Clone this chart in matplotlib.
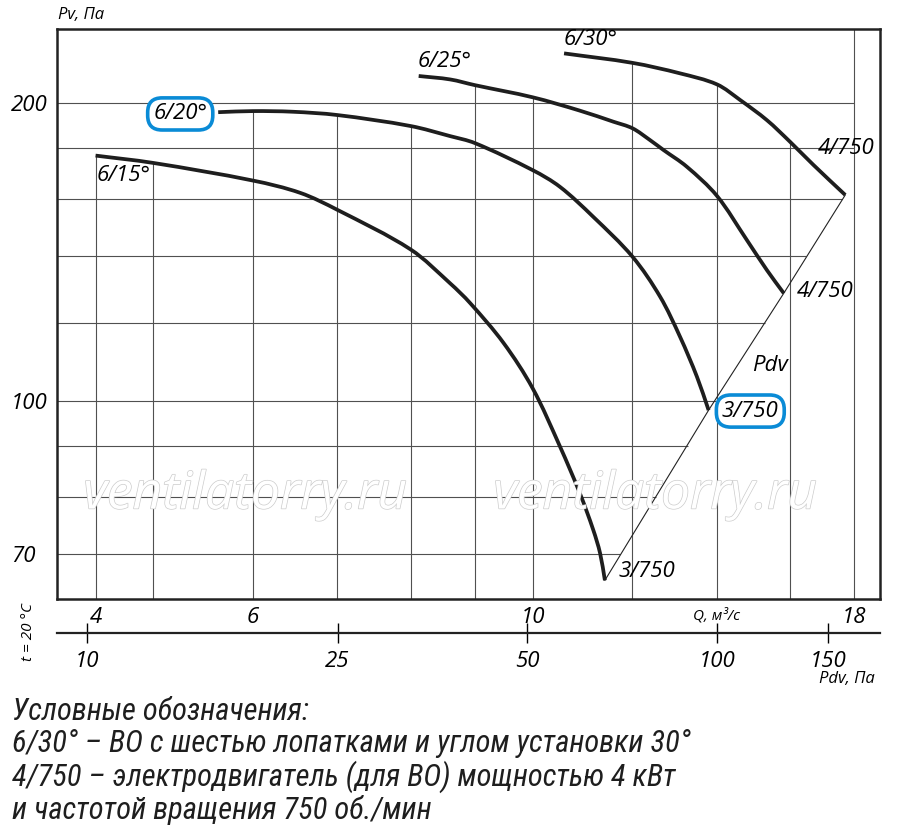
import numpy as np
import matplotlib.pyplot as plt
import matplotlib.patheffects as pe
from matplotlib import font_manager as fm
from matplotlib.path import Path
from matplotlib.patches import PathPatch
from matplotlib.ticker import NullLocator

# fan curves: Q (m3/s) against Pv (Pa)
q_15 = [4.5, 5.0, 6.0, 6.54, 7.0, 8.0, 8.6, 8.92, 9.48, 10.0, 10.51, 10.9, 11.17, 11.31, 11.41]
p_15 = [177, 174, 167, 162.3, 156, 142.3, 131.5, 125.6, 114.5, 103, 90, 80.7, 74.1, 70.2, 65.9]

q_20 = [5.63, 6.0, 6.45, 7.0, 8.0, 8.6, 9.0, 10.0, 10.51, 11.17, 12.0, 12.62, 13.09, 13.5, 13.79]
p_20 = [195.8, 196.3, 196.0, 194.5, 189.6, 185.2, 182.2, 171.1, 164.6, 153.5, 139.9, 127.5, 116.1, 105.8, 97.9]

q_25 = [8.12, 8.6, 9.0, 10.0, 10.9, 11.59, 12.0, 12.39, 12.7, 13.25, 14.0, 14.79, 15.34, 15.82]
p_25 = [213.0, 211.3, 208.5, 202.7, 196.5, 191.5, 188.6, 183.5, 179.3, 172.5, 161.2, 145.4, 135.6, 128.5]

q_30 = [10.59, 12.0, 13.09, 14.0, 14.61, 15.34, 16.0, 16.7, 17.7]
p_30 = [224.5, 219.6, 214.3, 208.9, 201.4, 192.2, 182.8, 173.2, 161.5]

# Pdv line through the curve end points
pdv_q = [11.41, 13.79, 15.82, 17.7]
pdv_p = [65.9, 97.9, 128.5, 161.5]

grid_q = [4.5, 5, 6, 7, 8, 9, 10, 12, 14, 16, 18]
grid_p = [70, 80, 90, 100, 120, 140, 160, 180, 200]
q_ticks = [4.5, 6, 10, 18]
q_labels = ['4', '6', '10', '18']
p_ticks = [70, 100, 200]
pdv_ticks = [10, 25, 50, 100, 150]
k_dv = 0.51  # Pdv = k * Q^2

names = {}
for f in fm.fontManager.ttflist:
    names.setdefault(f.name, set()).add(f.style)

def pick(cands):
    for c in cands:
        if c in names and ('italic' in names[c] or 'oblique' in names[c]):
            return c
    return 'DejaVu Sans'

lab_font = pick(['Open Sans', 'Noto Sans', 'DejaVu Sans'])
narrow_font = pick(['Liberation Sans Narrow', 'Roboto Condensed', 'DejaVu Sans'])

plt.rcParams['font.family'] = [lab_font, 'DejaVu Sans']
plt.rcParams['font.style'] = 'italic'

fig = plt.figure(figsize=(9, 8.33), dpi=100)
ax = fig.add_axes([57/900, 1-599/833, 823/900, 570/833])
ax.set_xscale('log')
ax.set_yscale('log')
ax.set_xlim(4.194, 18.86)
ax.set_ylim(63.1, 237.6)

curves = [(q_15, p_15), (q_20, p_20), (q_25, p_25), (q_30, p_30)]

def top_at(q):
    tops = []
    for cq, cp in curves:
        if cq[0] <= q <= cq[-1]:
            tops.append(10**np.interp(np.log10(q), np.log10(cq), np.log10(cp)))
    return max(tops) if tops else ax.get_ylim()[1]

# roughly pixels per decade on each axis, used only to shape the bezier handles
SX, SY = 1260.0, 990.0

def smooth_path(qs, ps):
    pts = np.column_stack([np.log10(qs) * SX, np.log10(ps) * SY])
    d = np.hypot(*np.diff(pts, axis=0).T)
    m = np.empty_like(pts)
    m[0] = (pts[1] - pts[0]) / d[0]
    m[-1] = (pts[-1] - pts[-2]) / d[-1]
    m[1:-1] = (pts[2:] - pts[:-2]) / (d[:-1] + d[1:])[:, None]
    verts = [pts[0]]
    codes = [Path.MOVETO]
    for i in range(len(pts) - 1):
        verts += [pts[i] + m[i] * d[i] / 3, pts[i+1] - m[i+1] * d[i] / 3, pts[i+1]]
        codes += [Path.CURVE4] * 3
    v = np.array(verts)
    return Path(np.column_stack([10**(v[:, 0] / SX), 10**(v[:, 1] / SY)]), codes)

a, b = np.polyfit(np.log10(pdv_q), np.log10(pdv_p), 1)

gcol = '#505050'
for q in grid_q:
    ax.vlines(q, ax.get_ylim()[0], top_at(q), color=gcol, lw=0.8, zorder=1)
for p in grid_p:
    q_end = min(18, 10**((np.log10(p) - b) / a))
    ax.hlines(p, ax.get_xlim()[0], q_end, color=gcol, lw=0.8, zorder=1)

# watermark
for xw in [245/900, 655/900]:
    fig.text(xw, 1-495/833, 'ventilatorry.ru', ha='center', va='center',
             fontsize=37, color='white', zorder=2,
             path_effects=[pe.withStroke(linewidth=1.0, foreground='#cccccc')])

ax.plot(pdv_q, pdv_p, color='#222222', lw=0.8, zorder=3)
for cq, cp in curves:
    ax.add_patch(PathPatch(smooth_path(cq, cp), fc='none', ec='#1e1e1e', lw=2.7,
                           joinstyle='round', capstyle='butt', zorder=4))

lab = dict(fontsize=16, ha='left', va='center', zorder=5)
blue_box = dict(boxstyle='round,pad=0.25,rounding_size=0.65', fc='white', ec='#0a8bd6', lw=2.6)
ax.text(4.51, 168.8, '6/15°', **lab)
ax.text(5.0, 195, '6/20°', bbox=blue_box, **lab)
ax.text(8.11, 220.5, '6/25°', **lab)
ax.text(10.59, 232.0, '6/30°', **lab)
ax.text(16.84, 180.0, '4/750', **lab)
ax.text(16.21, 128.9, '4/750', **lab)
ax.text(14.93, 108.5, 'Pdv', **lab)
ax.text(14.13, 97.7, '3/750', bbox=blue_box, **lab)
ax.text(11.69, 67.2, '3/750', **lab)

ax.set_xticks(q_ticks, labels=q_labels, fontsize=16, fontstyle='italic')
ax.set_yticks(p_ticks, labels=[str(v) for v in p_ticks], fontsize=16, fontstyle='italic')
ax.xaxis.set_minor_locator(NullLocator())
ax.yaxis.set_minor_locator(NullLocator())
ax.tick_params(axis='x', length=0, pad=6)
ax.tick_params(axis='y', length=0, pad=33)
for t in ax.get_yticklabels():
    t.set_horizontalalignment('left')
for s in ax.spines.values():
    s.set_linewidth(1.8)
    s.set_color('#222222')

ax.annotate('Q, м³/с', xy=(14.0, 0), xycoords=('data', 'axes fraction'), xytext=(0, -17),
            textcoords='offset pixels', ha='center', va='center', fontsize=11)

sec = ax.secondary_xaxis(-0.0591, functions=(lambda q: k_dv * np.asarray(q)**2,
                                             lambda p: np.sqrt(np.maximum(np.asarray(p), 1e-9) / k_dv)))
sec.set_xticks(pdv_ticks, labels=[str(v) for v in pdv_ticks], fontsize=16, fontstyle='italic')
sec.xaxis.set_minor_locator(NullLocator())
sec.spines['bottom'].set_linewidth(1.6)
sec.spines['bottom'].set_color('#222222')
sec.tick_params(direction='inout', length=14, width=1, pad=6)

for t in ax.get_xticklabels() + ax.get_yticklabels() + sec.get_xticklabels():
    t.set_fontstyle('italic')

fig.text(875/900, 1-679/833, 'Pdv, Па', ha='right', va='center', fontsize=12)
fig.text(58/900, 1-15/833, 'Pv, Па', ha='left', va='center', fontsize=12)
fig.text(29/900, 1-632/833, 't = 20 °C', ha='center', va='center', rotation=90, fontsize=11)

legend_lines = ['Условные обозначения:',
                '6/30° – ВО с шестью лопатками и углом установки 30°',
                '4/750 – электродвигатель (для ВО) мощностью 4 кВт',
                'и частотой вращения 750 об./мин']
for i, line in enumerate(legend_lines):
    fig.text(12/900, 1-(711 + 33*i)/833, line, ha='left', va='center', fontsize=22,
             family=[narrow_font, 'DejaVu Sans'], color='#1e1e1e')

fig.savefig('out.png', dpi=100)
